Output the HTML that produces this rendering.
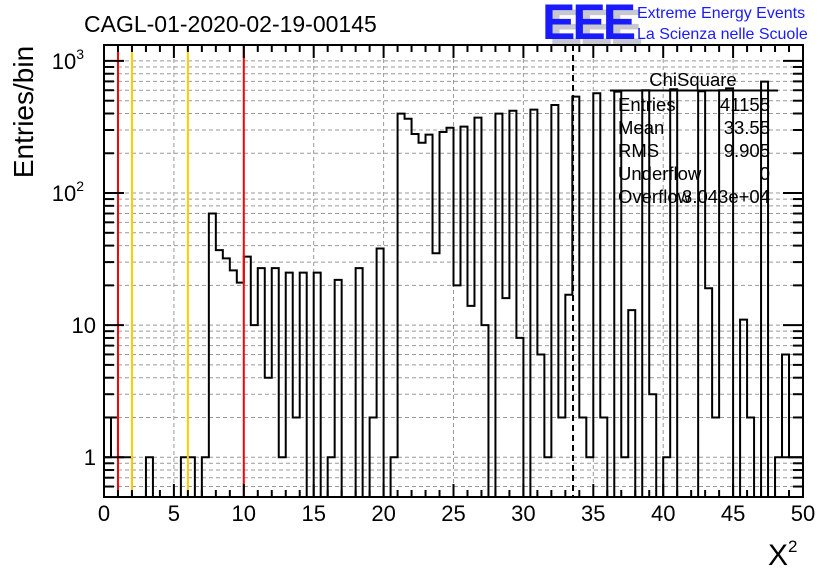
<!DOCTYPE html>
<html><head><meta charset="utf-8"><style>
body{margin:0;background:#fff}
svg text{font-family:"Liberation Sans",sans-serif}
</style></head><body>
<svg id="c" width="836" height="572" viewBox="0 0 836 572" xmlns="http://www.w3.org/2000/svg">
<rect width="836" height="572" fill="#fff"/>
<text x="84" y="32" font-size="23">CAGL-01-2020-02-19-00145</text>
<g>
<text x="549" y="44" font-size="50" font-weight="bold" fill="#c8c8d0" letter-spacing="-3">EEE</text>
<text x="542" y="39" font-size="50" font-weight="bold" fill="#1a1aff" letter-spacing="-3">EEE</text>
<text x="637" y="18" font-size="16" fill="#1a1aff">Extreme Energy Events</text>
<text x="637" y="39" font-size="16" fill="#1a1aff">La Scienza nelle Scuole</text>
</g>
<g id="grid"></g>
<g id="marks"></g>
<g id="axes"></g>
<text transform="translate(33,112) rotate(-90)" text-anchor="middle" font-size="28">Entries/bin</text>
<text x="768" y="565" font-size="30" font-family="Liberation Serif,serif">X<tspan font-size="17" dy="-13">2</tspan></text>
<g font-size="18.5">
<text x="693" y="86" text-anchor="middle">ChiSquare</text>
<line x1="610" y1="90.5" x2="778" y2="90.5" stroke="#000" stroke-width="2"/>
<text x="618" y="111">Entries</text><text x="770" y="111" text-anchor="end">41155</text>
<text x="618" y="134">Mean</text><text x="770" y="134" text-anchor="end">33.55</text>
<text x="618" y="157">RMS</text><text x="770" y="157" text-anchor="end">9.905</text>
<text x="618" y="180">Underflow</text><text x="770" y="180" text-anchor="end">0</text>
<text x="618" y="203">Overflow</text><text x="770" y="203" text-anchor="end">3.043e+04</text>
</g>
</svg>
<script>
const binStart=0, binWidth=0.5;
const counts=[1,2,1,1,0,0,1,0,0,0,0,1,1,0,1,70,37,32,26,21,
33,10,27,4,27,1,25,2,25,0,25,0,1,22,0,0,27,0,2,38,
0,1,399,365,280,240,277,35,290,312,20,318,14,372,10,0,399,16,420,8,
0,428,6,1,464,2,17,537,2,1,569,2,0,585,1,13,0,600,3,0,
1,610,0,0,0,590,19,2,600,620,0,11,2,0,697,0,1,6,1,1];
const xTicks=[0,5,10,15,20,25,30,35,40,45,50];
const yMajor=[1,10,100,1000];
const yLabels=["1","10","10","10"];
const yExp=["","","2","3"];
const redLines=[1,10];
const yellowLines=[2,6];
const meanLine=33.55;
const L=104,R=803,T=45,B=497,yMin=0.5,yMax=1320,xMin=0,xMax=50;
const X=v=>L+(v-xMin)/(xMax-xMin)*(R-L);
const Y=v=>B-(Math.log10(v)-Math.log10(yMin))/(Math.log10(yMax)-Math.log10(yMin))*(B-T);
const NS="http://www.w3.org/2000/svg";
function mk(tag,attrs,parent){const e=document.createElementNS(NS,tag);for(const k in attrs)e.setAttribute(k,attrs[k]);parent.appendChild(e);return e;}
const grid=document.getElementById('grid'),marks=document.getElementById('marks'),axes=document.getElementById('axes');
xTicks.forEach(t=>{if(t>xMin&&t<xMax){const g=mk('line',{x1:X(t),x2:X(t),y1:T,y2:B,stroke:'#999','stroke-dasharray':'4,3','stroke-width':1},grid);

}});
for(let d=-1;d<=3;d++)for(let m=1;m<10;m++){const v=m*Math.pow(10,d);if(v<yMin||v>yMax)continue;
const g=mk('line',{x1:L,x2:R,y1:Y(v),y2:Y(v),stroke:'#999','stroke-dasharray':'4,3','stroke-width':1},grid);


const lt=m===1?20:10;
const a=mk('line',{x1:L,x2:L+lt,y1:Y(v),y2:Y(v),stroke:'#000','stroke-width':2},axes);


const b=mk('line',{x1:R,x2:R-lt,y1:Y(v),y2:Y(v),stroke:'#000','stroke-width':2},axes);

}
let d=`M${X(binStart)},${B}`;
counts.forEach((c,i)=>{const x0=X(binStart+i*binWidth),x1=X(binStart+(i+1)*binWidth);const y=c>0?Math.min(B,Y(c)):B;d+=` L${x0},${y} L${x1},${y}`;});
d+=` L${X(binStart+counts.length*binWidth)},${B}`;
const h=mk('path',{d:d,fill:'none',stroke:'#000','stroke-width':2},marks);


redLines.forEach(v=>{const l=mk('line',{x1:X(v),x2:X(v),y1:T,y2:B,stroke:'#ff0000','stroke-width':2},marks);

});
yellowLines.forEach(v=>{const l=mk('line',{x1:X(v),x2:X(v),y1:T,y2:B,stroke:'#ffcc00','stroke-width':2},marks);

});
const ml=mk('line',{x1:X(meanLine),x2:X(meanLine),y1:T,y2:B,stroke:'#000','stroke-width':2,'stroke-dasharray':'6,4'},marks);


const fr=mk('rect',{x:L,y:T,width:R-L,height:B-T,fill:'none',stroke:'#000','stroke-width':2},axes);


for(let v=xMin;v<=xMax;v+=1){const lt=v%5===0?13:7;
const a=mk('line',{x1:X(v),x2:X(v),y1:B,y2:B-lt,stroke:'#000','stroke-width':2},axes);


const b=mk('line',{x1:X(v),x2:X(v),y1:T,y2:T+lt,stroke:'#000','stroke-width':2},axes);

}
xTicks.forEach(t=>{const e=mk('text',{x:X(t),y:521,'text-anchor':'middle','font-size':22},axes);e.textContent=t;

});
yMajor.forEach((v,i)=>{const e=mk('text',{x:yExp[i]?84:96,y:Y(v)+8,'text-anchor':'end','font-size':22},axes);e.textContent=yLabels[i];
if(yExp[i]){const s=mk('tspan',{'font-size':14,dy:-10},e);s.textContent=yExp[i];}

});
</script>
</body></html>
